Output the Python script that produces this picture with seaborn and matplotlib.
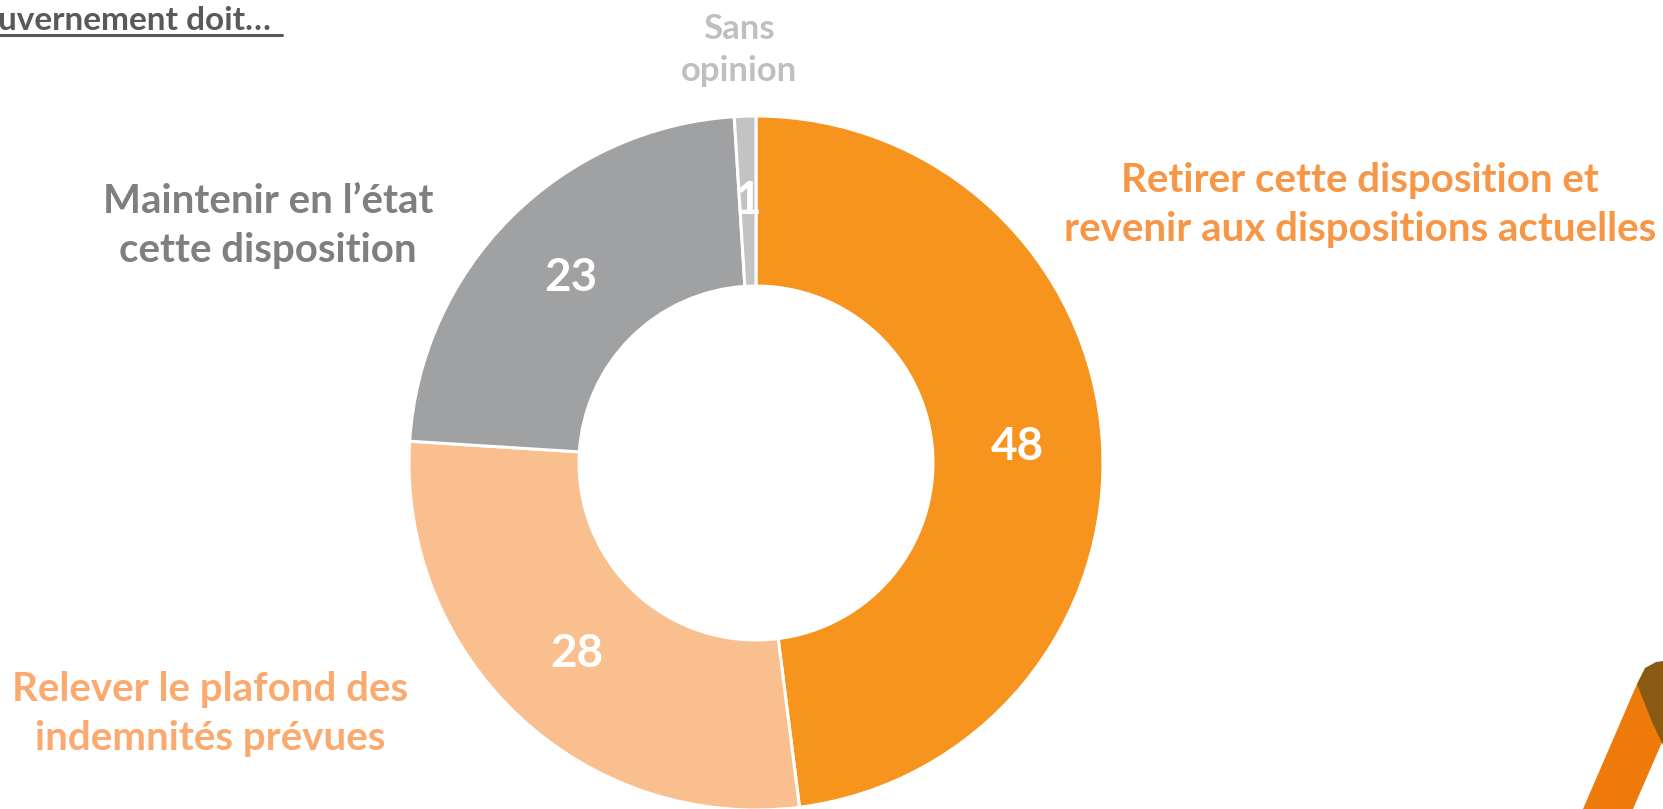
import matplotlib
matplotlib.use("Agg")
import matplotlib.pyplot as plt
import seaborn as sns
import numpy as np
from matplotlib.patches import Polygon
from matplotlib.lines import Line2D

# ---- data ----
categories = ["Retirer cette disposition et\nrevenir aux dispositions actuelles",
              "Relever le plafond des\nindemnités prévues",
              "Maintenir en l’état\ncette disposition",
              "Sans\nopinion"]
values = [48, 28, 23, 1]
value_labels = ["48", "28", "23", "1"]
title_text = "uvernement doit…"

sns.set_theme(style="white")
plt.rcParams['font.family'] = ['Lato', 'DejaVu Sans']

colors = sns.color_palette(["#F7941E", "#F9BF8F", "#A0A1A3", "#C3C3C3"])
label_colors = ["#F79646", "#FAAA6E", "#7F7F7F", "#BFBFBF"]

W, H = 1663, 809
fig = plt.figure(figsize=(W / 100, H / 100), dpi=100)
fig.patch.set_facecolor("white")

def fx(x):
    return x / W

def fy(y):
    return 1 - y / H

cx, cy, R = 756, 463, 347
ax = fig.add_axes([fx(cx - R), fy(cy + R), 2 * R / W, 2 * R / H])
wedges, _ = ax.pie(values, colors=colors, startangle=90, counterclock=False,
                   radius=1.0,
                   wedgeprops=dict(width=0.49, edgecolor="white", linewidth=2.2))
ax.set_xlim(-1, 1)
ax.set_ylim(-1, 1)
ax.set_aspect("equal")
ax.axis("off")

# value labels inside the ring
total = sum(values)
cum = 0
for v, lab in zip(values, value_labels):
    mid = 90 - (cum + v / 2) / total * 360
    cum += v
    r = 0.755
    ax.text(r * np.cos(np.radians(mid)), r * np.sin(np.radians(mid)), lab,
            ha="center", va="center", color="white", fontsize=33, fontweight="bold")

# category labels
label_pos = [(1360, 205), (210, 714), (268, 226), (739, 50)]
label_sizes = [29, 29, 29, 25]
for cat, (x, y), c, s in zip(categories, label_pos, label_colors, label_sizes):
    fig.text(fx(x), fy(y), cat, ha="center", va="center", color=c,
             fontsize=s, fontweight="bold", linespacing=1.4)

# title (cut at the left edge), underlined
fig.text(fx(-2), fy(20), title_text, ha="left", va="center", color="#595959",
         fontsize=24, fontweight="bold")
fig.add_artist(Line2D([0, fx(282)], [fy(35), fy(35)], color="#595959", linewidth=2.2,
                      transform=fig.transFigure))

# decorative logo at bottom right
orange_pts = [(1583, 809), (1633, 809), (1663, 740), (1663, 700), (1637, 684)]
brown_pts = [(1637, 684), (1645, 668), (1656, 662), (1663, 661), (1663, 745), (1652, 722)]
fig.add_artist(Polygon([(fx(x), fy(y)) for x, y in orange_pts], closed=True,
                       facecolor="#EE7A0C", edgecolor="none", transform=fig.transFigure))
fig.add_artist(Polygon([(fx(x), fy(y)) for x, y in brown_pts], closed=True,
                       facecolor="#8A5A12", edgecolor="none", transform=fig.transFigure))

fig.savefig("out.png", dpi=100, facecolor="white")
